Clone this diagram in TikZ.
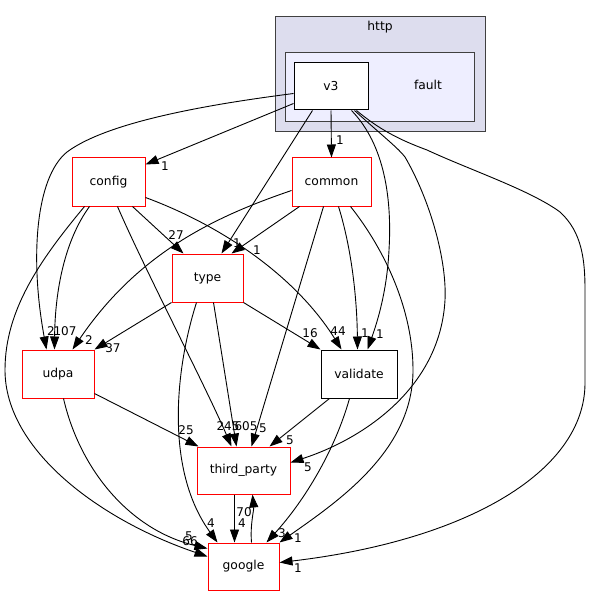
\documentclass[tikz,border=0pt]{standalone}
\usepackage{fontspec}
\setmainfont{DejaVu Sans}
\usetikzlibrary{arrows.meta,calc}
\definecolor{outerfill}{HTML}{DDDDEE}
\definecolor{innerfill}{HTML}{EEEEFF}
\definecolor{clborder}{HTML}{404040}
\begin{document}
\begin{tikzpicture}[x=1pt,y=-1pt,
  nodefont/.style={font=\fontsize{12.3}{14}\selectfont},
  box/.style={draw=red, fill=white, line width=1pt, inner sep=0pt, nodefont},
  blackbox/.style={draw=black, fill=white, line width=1pt, inner sep=0pt, nodefont},
  cluster/.style={draw=clborder, line width=1.3pt, inner sep=0pt, anchor=north west},
  conn/.style={draw=black, line width=0.9pt, -{Triangle[length=13pt,width=9pt]}},
  lbl/.style={font=\fontsize{12}{14}\selectfont, inner sep=0pt}]
\useasboundingbox (0,0) rectangle (591,596);
\fill[white] (0,0) rectangle (591,596);

% clusters
\node[cluster, fill=outerfill, minimum width=210pt, minimum height=115pt] (http) at (275,16) {};
\node[nodefont] (httplbl) at (380,27) {http};
\node[cluster, fill=innerfill, minimum width=189pt, minimum height=69pt] (v3cl) at (285,52) {};
\node[blackbox, minimum width=74pt, minimum height=47pt] (v3) at (331,86.5) {v3};
\node[nodefont] (fault) at (428,85) {fault};

% nodes
\node[box, minimum width=73pt, minimum height=48pt] (config) at (108.5,182) {config};
\node[box, minimum width=79pt, minimum height=48pt] (common) at (331.5,182) {common};
\node[box, minimum width=71pt, minimum height=48pt] (type) at (207.5,278) {type};
\node[box, minimum width=72pt, minimum height=48pt] (udpa) at (58,374) {udpa};
\node[blackbox, minimum width=76pt, minimum height=48pt] (validate) at (359,374) {validate};
\node[box, minimum width=93pt, minimum height=47pt] (third_party) at (243.5,470.5) {third\_party};
\node[box, minimum width=71pt, minimum height=47pt] (google) at (243.5,566.5) {google};

% edges from v3
\draw[conn] ($(v3.south west)+(0,-7)$) -- ($(config.north east)+(0,7)$);
\draw[conn] ($(v3.south west)+(0,-17)$) .. controls (220,103) and (110,120) .. (67,152)
   .. controls (35,178) and (30,260) .. ($(udpa.north west)+(25,0)$);
\draw[conn] ($(v3.south west)+(19,0)$) -- ($(type.north west)+(50,0)$);
\draw[conn] (v3.south) -- (common.north);
\draw[conn] ($(v3.south west)+(58,0)$) .. controls (385,145) and (392,200) .. (389,250)
   .. controls (387,290) and (378,320) .. ($(validate.north west)+(47,0)$);
\draw[conn] ($(v3.south west)+(61,0)$) .. controls (385,138) and (398,148) .. (405,157)
   .. controls (430,200) and (447,260) .. (445,300)
   .. controls (440,390) and (360,440) .. ($(third_party.north east)+(0,16)$);
\draw[conn] ($(v3.south west)+(63,0)$) .. controls (380,130) and (400,140) .. (427,150)
   .. controls (470,170) and (530,190) .. (560,212)
   .. controls (582,232) and (585,260) .. (585,290) -- (585,383)
   .. controls (585,470) and (470,540) .. ($(google.north east)+(0,20)$);

% edges from config
\draw[conn] ($(config.south west)+(61,0)$) -- ($(type.north west)+(12,0)$);
\draw[conn] ($(config.south east)+(0,-9)$) .. controls (220,225) and (295,275) .. ($(validate.north west)+(21,0)$);
\draw[conn] ($(config.south west)+(18,0)$) .. controls (65,240) and (55,290) .. ($(udpa.north west)+(33,0)$);
\draw[conn] ($(config.south west)+(13,0)$) .. controls (40,260) and (5,310) .. (5,370)
   .. controls (5,450) and (100,520) .. ($(google.north west)+(0,14)$);
\draw[conn] ($(config.south west)+(46,0)$) .. controls (145,270) and (205,385) .. ($(third_party.north west)+(35,0)$);

% edges from common
\draw[conn] ($(common.south west)+(8,0)$) -- ($(type.north west)+(60,0)$);
\draw[conn] ($(common.south west)+(0,-16)$) .. controls (220,215) and (140,250) .. ($(udpa.north west)+(51,0)$);
\draw[conn] ($(common.south west)+(32,0)$) -- ($(third_party.north west)+(55,0)$);
\draw[conn] ($(common.south west)+(47,0)$) .. controls (352,250) and (357,300) .. ($(validate.north west)+(37,0)$);
\draw[conn] ($(common.south west)+(59,0)$) .. controls (385,250) and (413,310) .. (413,370)
   .. controls (413,450) and (340,500) .. (google.north east);

% edges from type
\draw[conn] (type.south west) -- (udpa.north east);
\draw[conn] ($(type.south west)+(25,0)$) .. controls (175,370) and (165,470) .. ($(google.north west)+(10,0)$);
\draw[conn] ($(type.south west)+(42,0)$) -- ($(third_party.north west)+(40,0)$);
\draw[conn] (type.south east) -- (validate.north west);

% edges from udpa
\draw[conn] ($(udpa.south east)+(0,-5)$) -- ($(third_party.north west)+(2,0)$);
\draw[conn] ($(udpa.south west)+(42,0)$) .. controls (80,470) and (130,530) .. ($(google.north west)+(0,6)$);

% edges from validate
\draw[conn] ($(validate.south west)+(9,0)$) -- ($(third_party.north west)+(73,0)$);
\draw[conn] ($(validate.south west)+(29,0)$) .. controls (335,450) and (305,500) .. ($(google.north west)+(59,0)$);

% third_party <-> google
\draw[conn] ($(third_party.south west)+(38,0)$) -- ($(google.north west)+(27,0)$);
\draw[conn] ($(google.north west)+(44,0)$) .. controls (250,525) and (254,510) .. ($(third_party.south west)+(56,0)$);

% labels
\node[lbl] (l1) at (165,166) {1};
\node[lbl] (l2) at (51,331) {2};
\node[lbl] (l3) at (237,243) {1};
\node[lbl] (l4) at (340,140) {1};
\node[lbl] (l5) at (380,334) {1};
\node[lbl] (l6) at (308,467) {5};
\node[lbl] (l7) at (298,568) {1};
\node[lbl] (l8) at (176,235) {27};
\node[lbl] (l9) at (338,331) {44};
\node[lbl] (l10) at (65,331) {107};
\node[lbl] (l11) at (190,541) {66};
\node[lbl] (l12) at (228,426) {245};
\node[lbl] (l13) at (257,250) {1};
\node[lbl] (l14) at (89,340) {2};
\node[lbl] (l15) at (263,428) {5};
\node[lbl] (l16) at (365,333) {1};
\node[lbl] (l17) at (298,538) {1};
\node[lbl] (l18) at (113,348) {37};
\node[lbl] (l19) at (211,523) {4};
\node[lbl] (l20) at (246,426) {605};
\node[lbl] (l21) at (310,333) {16};
\node[lbl] (l22) at (186,430) {25};
\node[lbl] (l23) at (189,536) {5};
\node[lbl] (l24) at (290,440) {5};
\node[lbl] (l25) at (282,533) {3};
\node[lbl] (l26) at (242,523) {4};
\node[lbl] (l27) at (244,512) {70};
\end{tikzpicture}
\end{document}
